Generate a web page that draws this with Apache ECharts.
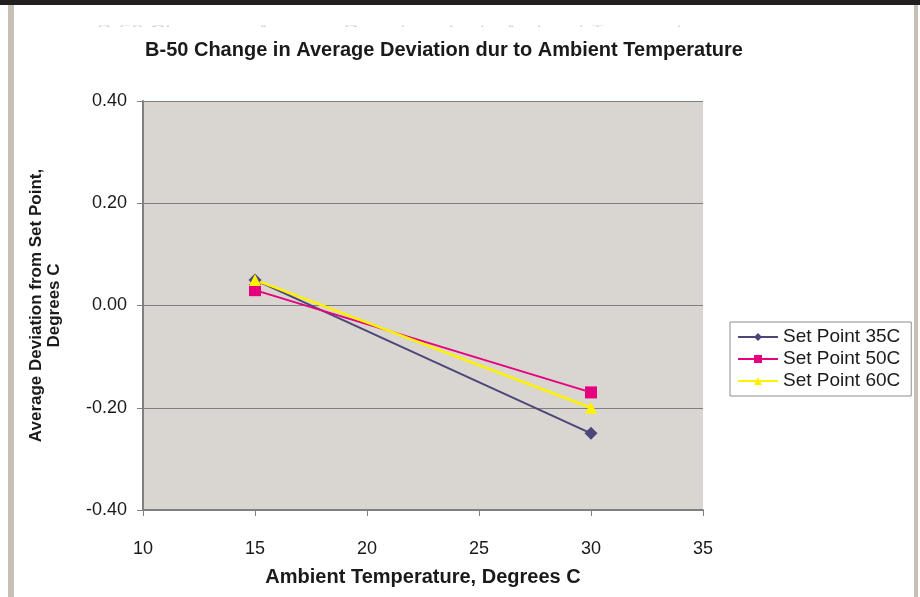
<!DOCTYPE html>
<html>
<head>
<meta charset="utf-8">
<script src="https://cdn.jsdelivr.net/npm/echarts@6/dist/echarts.min.js"></script>
<style>
  html, body { margin: 0; padding: 0; background: #fff; }
  #main { width: 920px; height: 597px; }
</style>
</head>
<body>
<div id="main"></div>
<script>
var myChart = echarts.init(document.getElementById('main'));

// ambient temperature (x) and average deviation (y) per set point
var temps = [15, 30];
var sp35 = [0.05, -0.25];
var sp50 = [0.03, -0.17];
var sp60 = [0.05, -0.20];
var seriesNames = ['Set Point 35C', 'Set Point 50C', 'Set Point 60C'];

function pairs(ys) {
    var out = [];
    for (var i = 0; i < temps.length; i++) out.push([temps[i], ys[i]]);
    return out;
}

var font = 'Liberation Sans, Arial, sans-serif';
var titleText = 'B-50 Change in Average Deviation dur to Ambient Temperature';

option = {
    backgroundColor: '#fff',
    animation: false,
    title: {
        text: titleText,
        left: 439,
        textAlign: 'center',
        top: 35,
        z: 10,
        textStyle: { fontFamily: font, fontSize: 20, fontWeight: 'bold', color: '#1a1a1a' }
    },
    graphic: [
        // page frame bits from the scanned document
        { type: 'rect', shape: { x: 0, y: 0, width: 920, height: 5 }, style: { fill: '#231f20' } },
        { type: 'rect', shape: { x: 8, y: 5, width: 6, height: 592 }, style: { fill: '#c8bfb6' } },
        { type: 'rect', shape: { x: 914, y: 5, width: 4, height: 592 }, style: { fill: '#c8bfb6' } },
        // ghost of a clipped title line above: only a thin sliver shows
        { type: 'text', left: 97, top: 22, z: 1,
          style: { text: titleText, fill: '#cfcfcf', font: '22px ' + font } },
        { type: 'rect', z: 2, shape: { x: 90, y: 27, width: 720, height: 40 }, style: { fill: '#fff' } },
        { type: 'rect', z: 2, shape: { x: 90, y: 10, width: 720, height: 15.5 }, style: { fill: '#fff' } }
    ],
    legend: {
        data: seriesNames,
        orient: 'vertical',
        left: 730,
        top: 322,
        backgroundColor: '#fff',
        borderColor: '#8c8c8c',
        borderWidth: 1,
        borderRadius: 0,
        padding: [5, 11, 5, 7],
        itemGap: 2,
        itemWidth: 40,
        itemHeight: 10,
        textStyle: { fontFamily: font, fontSize: 19, lineHeight: 20, color: '#1a1a1a' }
    },
    grid: {
        left: 143,
        right: 217,
        top: 101,
        bottom: 87,
        show: true,
        backgroundColor: '#d9d5d0',
        borderWidth: 0
    },
    xAxis: {
        type: 'value',
        min: 10,
        max: 35,
        interval: 5,
        name: 'Ambient Temperature, Degrees C',
        nameLocation: 'middle',
        nameGap: 57,
        nameTextStyle: { fontFamily: font, fontSize: 20, fontWeight: 'bold', color: '#1a1a1a' },
        axisLine: { onZero: false, lineStyle: { color: '#808080', width: 2 } },
        axisTick: { show: true, length: 6, lineStyle: { color: '#808080', width: 1 } },
        axisLabel: { fontFamily: font, fontSize: 18, color: '#1a1a1a', margin: 30 },
        splitLine: { show: false }
    },
    yAxis: {
        type: 'value',
        min: -0.4,
        max: 0.4,
        interval: 0.2,
        name: 'Average Deviation from Set Point,\nDegrees C',
        nameLocation: 'middle',
        nameGap: 80,
        nameTextStyle: { fontFamily: font, fontSize: 17, fontWeight: 'bold', color: '#1a1a1a', lineHeight: 18 },
        axisLine: { show: true, lineStyle: { color: '#808080', width: 2 } },
        axisTick: { show: true, length: 6, lineStyle: { color: '#808080', width: 1 } },
        axisLabel: {
            fontFamily: font, fontSize: 18, color: '#1a1a1a', margin: 16,
            formatter: function (v) { return v.toFixed(2); }
        },
        splitLine: { show: true, lineStyle: { color: '#7f7f7f', width: 1 } }
    },
    series: [{
        name: seriesNames[0],
        type: 'line',
        data: pairs(sp35),
        symbol: 'diamond',
        symbolSize: 13,
        itemStyle: { color: '#4d4679' },
        lineStyle: { color: '#4d4679', width: 2 }
    }, {
        name: seriesNames[1],
        type: 'line',
        data: pairs(sp50),
        symbol: 'rect',
        symbolSize: 12,
        itemStyle: { color: '#e6007e' },
        lineStyle: { color: '#e6007e', width: 2 }
    }, {
        name: seriesNames[2],
        type: 'line',
        data: pairs(sp60),
        symbol: 'triangle',
        symbolSize: 12,
        itemStyle: { color: '#fff200' },
        lineStyle: { color: '#fff200', width: 2.5 }
    }]
};
myChart.setOption(option);
</script>
</body>
</html>
